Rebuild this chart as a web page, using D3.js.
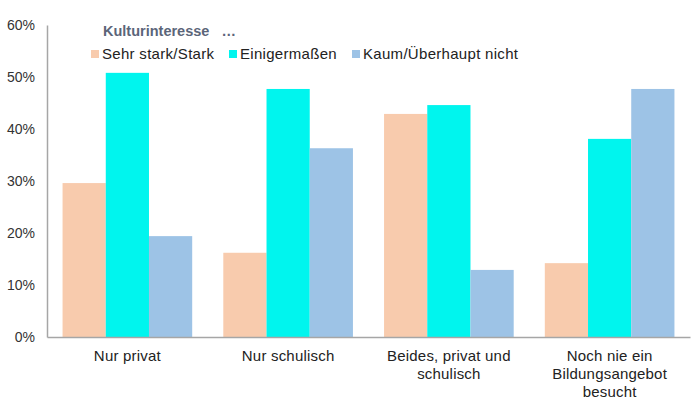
<!DOCTYPE html>
<html>
<head>
<meta charset="utf-8">
<script src="https://cdn.jsdelivr.net/npm/d3@7"></script>
<style>
body { margin: 0; background: #fff; }
text { font-family: "Liberation Sans", Arial, sans-serif; }
</style>
</head>
<body>
<div id="vis"></div>
<script>
var categories = [['Nur privat'], ['Nur schulisch'], ['Beides, privat und', 'schulisch'], ['Noch nie ein', 'Bildungsangebot', 'besucht']];
var series = ['Sehr stark/Stark', 'Einigermaßen', 'Kaum/Überhaupt nicht'];
var values = [
    [29.6, 50.8, 19.4],
    [16.2, 47.7, 36.3],
    [42.9, 44.6, 12.9],
    [14.2, 38.1, 47.7]
];
var yTicks = [0, 10, 20, 30, 40, 50, 60];
var colors = ['#F8CBAD', '#00F5EE', '#9DC3E6'];

var margin = {left: 47, right: 10, top: 25, bottom: 69};
var width = 700 - margin.left - margin.right;
var height = 406 - margin.top - margin.bottom;

var svg = d3.select('#vis')
    .append('svg')
        .attr('width', 700)
        .attr('height', 406)
    .append('g')
        .attr('transform', 'translate(' + margin.left + ',' + margin.top + ')');

var x0 = d3.scaleBand()
    .domain(d3.range(categories.length))
    .range([0, width]);
var x1 = d3.scaleBand()
    .domain(d3.range(series.length))
    .range([0, x0.bandwidth()])
    .paddingOuter(0.36)
    .paddingInner(0);
var y = d3.scaleLinear()
    .domain([0, 60])
    .range([height, 0]);

// bars
svg.append('g')
    .selectAll('g')
    .data(values)
    .enter()
    .append('g')
        .attr('transform', (d, i) => 'translate(' + x0(i) + ',0)')
    .selectAll('rect')
    .data(d => d)
    .enter()
    .append('rect')
        .attr('x', (d, j) => x1(j))
        .attr('y', d => y(d))
        .attr('width', x1.bandwidth())
        .attr('height', d => height - y(d))
        .style('fill', (d, j) => colors[j]);

// y axis
var yAxis = svg.append('g')
    .call(d3.axisLeft(y).tickValues(yTicks).tickSize(0).tickPadding(12).tickFormat(d => d + '%'));
yAxis.select('.domain').attr('stroke', '#a6a6a6').attr('stroke-width', 1.5);
yAxis.selectAll('text').style('font-size', '14px').style('fill', '#333');

// x axis
var xAxis = svg.append('g')
    .attr('transform', 'translate(0,' + height + ')')
    .call(d3.axisBottom(x0).tickSize(0).tickFormat(''));
xAxis.select('.domain').attr('stroke', '#a6a6a6').attr('stroke-width', 1.5);

xAxis.selectAll('.tick')
    .append('text')
    .attr('text-anchor', 'middle')
    .style('font-size', '15px')
    .style('letter-spacing', '0.2px')
    .style('fill', '#222')
    .selectAll('tspan')
    .data(i => categories[i])
    .enter()
    .append('tspan')
        .attr('x', 0)
        .attr('y', (d, k) => 24 + k * 18)
        .text(d => d);

// legend
var legend = svg.append('g');
legend.append('text')
    .attr('x', 56)
    .attr('y', 11)
    .style('font-size', '14.5px')
    .style('font-weight', 'bold')
    .style('fill', '#5b6579')
    .attr('xml:space', 'preserve')
    .text('Kulturinteresse   …');

var legendX = [44, 182, 305];
series.forEach((s, i) => {
    legend.append('rect')
        .attr('x', legendX[i])
        .attr('y', 25)
        .attr('width', 8)
        .attr('height', 8)
        .style('fill', colors[i]);
    legend.append('text')
        .attr('x', legendX[i] + 11)
        .attr('y', 34)
        .style('font-size', '15px')
        .style('letter-spacing', '0.3px')
        .style('fill', '#222')
        .text(s);
});
</script>
</body>
</html>
